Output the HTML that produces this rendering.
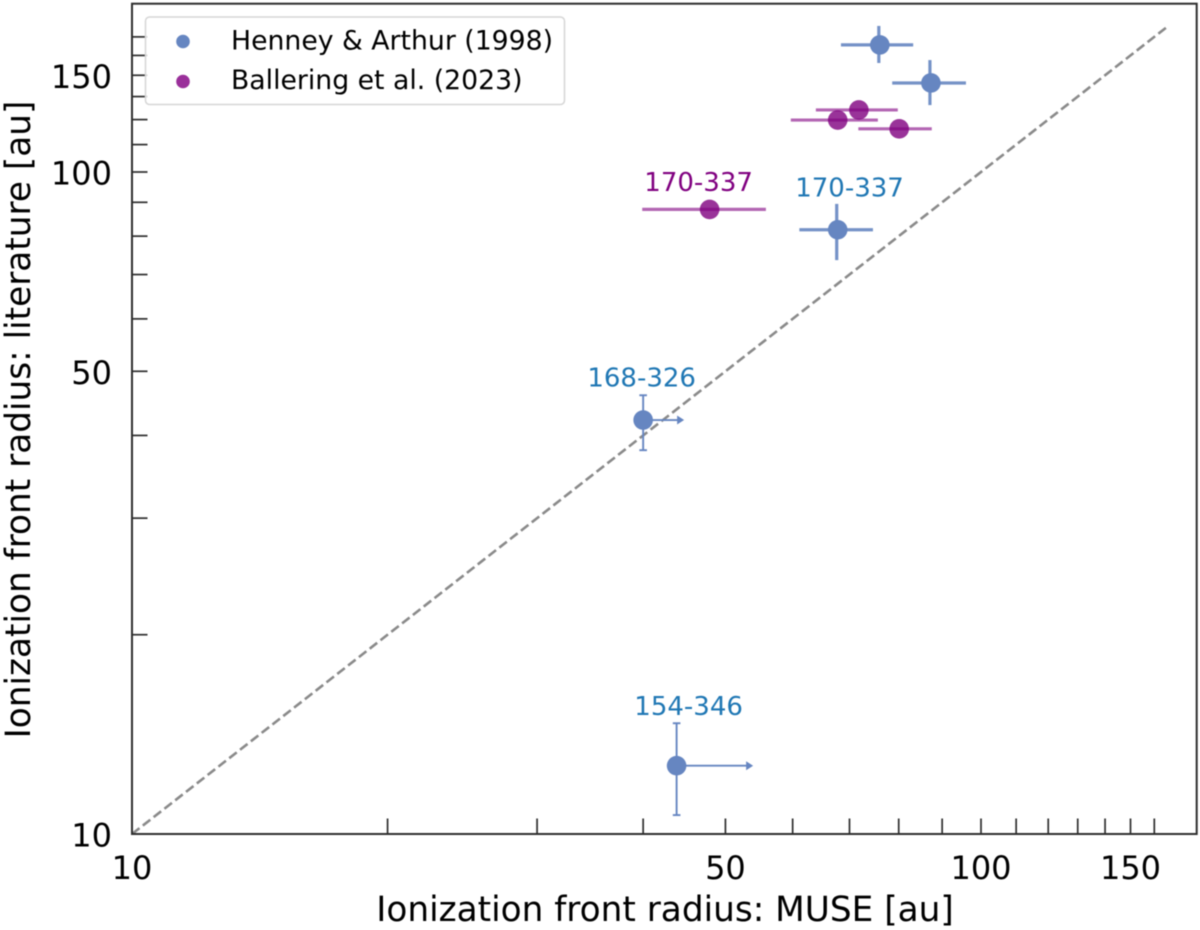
<!DOCTYPE html>
<html lang="en">
<head>
<meta charset="utf-8">
<title>Ionization front radius comparison</title>
<style>
html,body{margin:0;padding:0;background:#fff;}
svg{display:block;filter:blur(0.4px);font-family:"DejaVu Sans","Liberation Sans",sans-serif;}
</style>
</head>
<body>
<svg id="chart" xmlns="http://www.w3.org/2000/svg" width="1200" height="930" viewBox="0 0 1200 930">
  <rect x="0" y="0" width="1200" height="930" fill="#ffffff"/>
  <g id="ticks"></g>
  <g id="marks"></g>
  <rect x="132" y="3.7" width="1064.7" height="830.3" fill="none" stroke="#2e2e2e" stroke-width="2"/>
  <g id="tick-labels" font-size="32" fill="#000000"></g>
  <text x="665" y="921" font-size="34.3" fill="#000000" text-anchor="middle">Ionization front radius: MUSE [au]</text>
  <text transform="translate(30,419.5) rotate(-90)" x="0" y="0" font-size="34.3" fill="#000000" text-anchor="middle">Ionization front radius: literature [au]</text>
  <g>
    <rect x="145.5" y="17" width="419" height="87.5" rx="4" fill="#ffffff" fill-opacity="0.8" stroke="#d6d6d6" stroke-width="1.5"/>
    <circle cx="183" cy="41.5" r="6.8" fill="#6686c1"/>
    <text x="231" y="49.5" font-size="26.7" fill="#000000">Henney &amp; Arthur (1998)</text>
    <circle cx="183" cy="81.5" r="6.8" fill="#9a2f9a"/>
    <text x="231" y="89" font-size="26.7" fill="#000000">Ballering et al. (2023)</text>
  </g>
</svg>
<script>
// Chart data (values in au)
const xTickValues = [10,20,30,40,50,60,70,80,90,100,110,120,130,140,150,160];
const yTickValues = [10,20,30,40,50,60,70,80,90,100,110,120,130,140,150,160];
const xTickLabelValues = [10,50,100,150];
const xTickLabelTexts = ['10','50','100','150'];
const yTickLabelValues = [10,50,100,140];
const yTickLabelTexts = ['10','50','100','150'];
const identityLine = [10,165.5];

const henneyX = [76.0,87.3,67.8,40.0,43.8];
const henneyXLow = [68.4,78.6,61.1,40.0,43.8];
const henneyXHigh = [83.2,96.0,74.6,40.0,43.8];
const henneyY = [155.6,136.3,81.8,42.2,12.68];
const henneyYLow = [146.1,126.2,73.6,38.0,10.68];
const henneyYHigh = [166.2,147.6,89.5,46.0,14.7];
const henneyLimitTo = [null,null,null,44.7,53.9];
const henneyNames = ['','','170-337','168-326','154-346'];

const balleringX = [71.8,67.8,80.1,47.9];
const balleringXLow = [63.9,59.7,71.7,39.9];
const balleringXHigh = [79.8,75.6,87.5,55.8];
const balleringY = [124.1,119.8,116.2,87.8];
const balleringNames = ['','','','170-337'];

// Axis functions
const SVGNS = 'http://www.w3.org/2000/svg';
function xAxis(v){ return 132 + 849 * Math.log10(v / 10); }
function yAxis(v){ return 834 - 662 * Math.log10(v / 10); }
function make(tag, parent, attrs){
  const el = document.createElementNS(SVGNS, tag);
  for (const k in attrs) el.setAttribute(k, attrs[k]);
  parent.appendChild(el);
  return el;
}

const ticksG = document.getElementById('ticks');
const labelsG = document.getElementById('tick-labels');
const marksG = document.getElementById('marks');
const AXIS = '#2e2e2e';

xTickValues.forEach(function(v){
  const el = make('line', ticksG, {x1:xAxis(v), x2:xAxis(v), y1:834, y2:818.5, stroke:AXIS, 'stroke-width':1.7});
  
  
});
yTickValues.forEach(function(v){
  const el = make('line', ticksG, {x1:132, x2:147.5, y1:yAxis(v), y2:yAxis(v), stroke:AXIS, 'stroke-width':1.7});
  
  
});
xTickLabelValues.forEach(function(v,i){
  const el = make('text', labelsG, {x:xAxis(v), y:879, 'text-anchor':'middle'});
  el.textContent = xTickLabelTexts[i];
  
  
});
yTickLabelValues.forEach(function(v,i){
  const el = make('text', labelsG, {x:112, y:yAxis(v)+12.5, 'text-anchor':'end'});
  el.textContent = yTickLabelTexts[i];
  
  
});

// 1:1 reference line
const refLine = make('line', marksG, {x1:xAxis(identityLine[0]), y1:yAxis(identityLine[0]), x2:xAxis(identityLine[1]), y2:yAxis(identityLine[1]), stroke:'#8a8a8a', 'stroke-width':2.6, 'stroke-dasharray':'9.5 4.2'});



const BLUE = '#6686c1';
const PURPLE = '#800080';

// Henney & Arthur (1998)
henneyX.forEach(function(v,i){
  const cx = xAxis(v), cy = yAxis(henneyY[i]);
  const y1 = yAxis(henneyYLow[i]), y2 = yAxis(henneyYHigh[i]);
  const isLimit = henneyLimitTo[i] !== null;
  const w = isLimit ? 1.9 : 3.2;
  const vBar = make('line', marksG, {x1:cx-(isLimit?0:1), x2:cx-(isLimit?0:1), y1:y1, y2:y2, stroke:BLUE, 'stroke-opacity':isLimit?1:0.9, 'stroke-width':w});
  
  
  if (isLimit) {
    [y1,y2].forEach(function(py){
      const cap = make('line', marksG, {x1:cx-3.8, x2:cx+3.8, y1:py, y2:py, stroke:BLUE, 'stroke-width':1.9});
      
      
    });
    const tip = xAxis(henneyLimitTo[i]);
    const shaft = make('line', marksG, {x1:cx, x2:tip-4, y1:cy, y2:cy, stroke:BLUE, 'stroke-width':1.9});
    
    
    const head = make('polygon', marksG, {points:(tip-7)+','+(cy-4.5)+' '+tip+','+cy+' '+(tip-7)+','+(cy+4.5), fill:BLUE});
    
    
  } else {
    const hBar = make('line', marksG, {x1:xAxis(henneyXLow[i]), x2:xAxis(henneyXHigh[i]), y1:cy, y2:cy, stroke:BLUE, 'stroke-opacity':0.9, 'stroke-width':w});
    
    
  }
  const dot = make('circle', marksG, {cx:cx, cy:cy, r:9.8, fill:BLUE});
  
  
  if (henneyNames[i]) {
    const dx = i === 2 ? 11.8 : (i === 3 ? -1.5 : 12);
    const dy = i === 2 ? -33.5 : (i === 3 ? -33.5 : -50.5);
    const t = make('text', marksG, {x:cx+dx, y:cy+dy, 'text-anchor':'middle', 'font-size':26, fill:'#1f77b4'});
    t.textContent = henneyNames[i];
    
    
  }
});

// Ballering et al. (2023)
balleringX.forEach(function(v,i){
  const cx = xAxis(v), cy = yAxis(balleringY[i]);
  const hBar = make('line', marksG, {x1:xAxis(balleringXLow[i]), x2:xAxis(balleringXHigh[i]), y1:cy, y2:cy, stroke:PURPLE, 'stroke-opacity':0.6, 'stroke-width':3.2});
  
  
  const dot = make('circle', marksG, {cx:cx, cy:cy, r:9.8, fill:PURPLE, 'fill-opacity':0.8});
  
  
  if (balleringNames[i]) {
    const t = make('text', marksG, {x:cx-11, y:cy-18.5, 'text-anchor':'middle', 'font-size':26, fill:PURPLE});
    t.textContent = balleringNames[i];
    
    
  }
});
</script>
</body>
</html>
